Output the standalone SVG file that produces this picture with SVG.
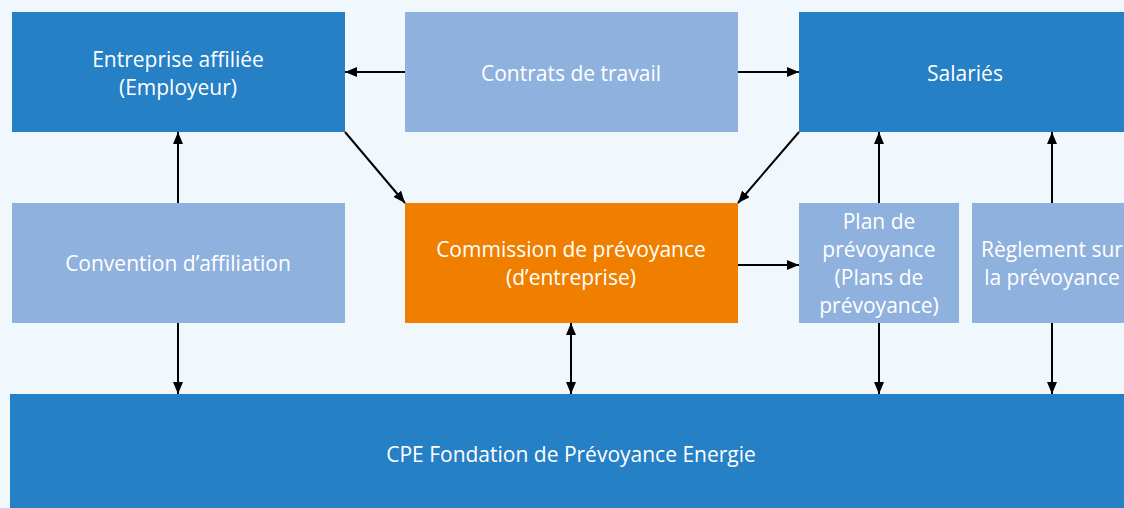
<svg xmlns="http://www.w3.org/2000/svg" width="1124" height="508" viewBox="0 0 1124 508">
<style>
.dark{fill:#2680c6}
.light{fill:#8fb1de}
.orange{fill:#f07f00}
text{font-family:"Open Sans","Noto Sans","DejaVu Sans",sans-serif;font-size:21px;fill:#ffffff;text-anchor:middle}
.c line{stroke:#000;stroke-width:2;fill:none}
</style>
<defs>
<marker id="ah" viewBox="0 0 12 10" refX="12" refY="5" markerWidth="12" markerHeight="10" markerUnits="userSpaceOnUse" orient="auto-start-reverse">
<path d="M0,0 L12,5 L0,10 z" fill="#000"/>
</marker>
</defs>
<rect width="1124" height="508" fill="#f0f8fe"/>
<g id="entreprise"><rect class="dark" x="12" y="12" width="333" height="120"/><text x="178" y="67">Entreprise affiliée</text><text x="178" y="95">(Employeur)</text></g>
<g id="contrats"><rect class="light" x="405" y="12" width="333" height="120"/><text x="571" y="81">Contrats de travail</text></g>
<g id="salaries"><rect class="dark" x="799" y="12" width="333" height="120"/><text x="965" y="81">Salariés</text></g>
<g id="convention"><rect class="light" x="12" y="203" width="333" height="120"/><text x="178" y="271">Convention d’affiliation</text></g>
<g id="commission"><rect class="orange" x="405" y="203" width="333" height="120"/><text x="571" y="257">Commission de prévoyance</text><text x="571" y="285">(d’entreprise)</text></g>
<g id="plan"><rect class="light" x="799" y="203" width="160" height="120"/><text x="879" y="229">Plan de</text><text x="879" y="257">prévoyance</text><text x="879" y="285">(Plans de</text><text x="879" y="313">prévoyance)</text></g>
<g id="reglement"><rect class="light" x="972" y="203" width="160" height="120"/><text x="1052" y="257">Règlement sur</text><text x="1052" y="285">la prévoyance</text></g>
<g id="cpe"><rect class="dark" x="10" y="394" width="1124" height="114"/><text x="571" y="462">CPE Fondation de Prévoyance Energie</text></g>
<g class="c" id="connectors">
<line x1="405" y1="72" x2="345" y2="72" marker-end="url(#ah)"/>
<line x1="738" y1="72" x2="799" y2="72" marker-end="url(#ah)"/>
<line x1="345" y1="132" x2="405" y2="203" marker-end="url(#ah)"/>
<line x1="799" y1="132" x2="738" y2="203" marker-end="url(#ah)"/>
<line x1="738" y1="265" x2="799" y2="265" marker-end="url(#ah)"/>
<line x1="178" y1="203" x2="178" y2="132" marker-end="url(#ah)"/>
<line x1="178" y1="323" x2="178" y2="394" marker-end="url(#ah)"/>
<line x1="571" y1="323" x2="571" y2="394" marker-start="url(#ah)" marker-end="url(#ah)"/>
<line x1="879" y1="203" x2="879" y2="132" marker-end="url(#ah)"/>
<line x1="879" y1="323" x2="879" y2="394" marker-end="url(#ah)"/>
<line x1="1052" y1="203" x2="1052" y2="132" marker-end="url(#ah)"/>
<line x1="1052" y1="323" x2="1052" y2="394" marker-end="url(#ah)"/>
</g>
</svg>
